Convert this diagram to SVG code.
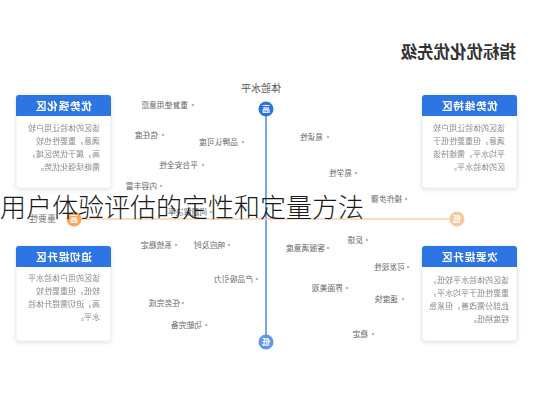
<svg xmlns="http://www.w3.org/2000/svg" width="533" height="400" viewBox="0 0 533 400">
<style>
text{font-family:"Noto Sans CJK SC","Noto Sans",sans-serif}
.ttl{font-size:16.5px;font-weight:700;fill:#333}
.box{fill:#fff;stroke:#e9edf3;stroke-width:1}
.hdr{fill:#2f74e4}
.ht{font-size:10.5px;font-weight:700;fill:#fff;text-anchor:middle;letter-spacing:0.8px}
.bt{font-size:8px;fill:#8a8a8a}
.it{font-size:7.8px;fill:#666}
.dot{fill:#bbb}
.ax{font-size:10px;fill:#555}
.cl{font-size:8px;font-weight:700;fill:#fff;text-anchor:middle}
.ov{font-size:26px;font-weight:300;fill:#1a1a1a}
</style>
<defs>
<filter id="sh" x="-10%" y="-10%" width="120%" height="125%"><feDropShadow dx="0" dy="1.5" stdDeviation="2" flood-color="#9aa8c0" flood-opacity="0.3"/></filter>
</defs>
<rect width="533" height="400" fill="#fff"/>
<g id="chart" transform="translate(533 0) scale(-1 1)">
<text class="ttl" x="17" y="58">指标优化优先级</text>
<g id="connectors">
<line x1="267" y1="109" x2="267" y2="342" stroke="#4a8ae8" stroke-width="1.5"/>
<line x1="76" y1="219" x2="459" y2="219" stroke="#f7d2b2" stroke-width="1.5"/>
</g>
<g id="axis-y">
<text class="ax" x="272" y="92" text-anchor="middle">体验水平</text>
<circle cx="267" cy="109" r="7.5" fill="#2b73e0"/>
<text class="cl" x="267" y="112">高</text>
<circle cx="267" cy="342" r="7.5" fill="#5e98ee"/>
<text class="cl" x="267" y="345">低</text>
</g>
<g id="axis-x">
<circle cx="459" cy="219" r="7.5" fill="#f5a55e"/>
<text class="cl" x="459" y="222">高</text>
<circle cx="76" cy="219" r="7.5" fill="#f8c99a"/>
<text class="cl" x="76" y="222">低</text>
<text class="ax" x="477" y="222" style="font-size:9px;fill:#777">重要性</text>
</g>
<g id="q-keep" filter="url(#sh)">
<rect class="box" x="16" y="95" width="95" height="93" rx="3"/>
<path class="hdr" d="M16 116V98a3 3 0 0 1 3-3H108a3 3 0 0 1 3 3V116Z"/>
<text class="ht" x="63.5" y="109.5">优势维持区</text>
<text class="bt" x="28" y="131">该区的体验让用户较</text>
<text class="bt" x="28" y="144">满意，但重要性低于</text>
<text class="bt" x="28" y="157">平均水平，需维持该</text>
<text class="bt" x="28" y="170">区的体验水平。</text>
</g>
<g id="q-strong" filter="url(#sh)">
<rect class="box" x="422" y="95" width="95" height="93" rx="3"/>
<path class="hdr" d="M422 116V98a3 3 0 0 1 3-3H514a3 3 0 0 1 3 3V116Z"/>
<text class="ht" x="469.5" y="109.5">优势强化区</text>
<text class="bt" x="433" y="131">该区的体验让用户较</text>
<text class="bt" x="433" y="144">满意，重要性也较</text>
<text class="bt" x="433" y="157">高，属于优势区域，</text>
<text class="bt" x="433" y="170">需继续强化优势。</text>
</g>
<g id="q-minor" filter="url(#sh)">
<rect class="box" x="16" y="246" width="95" height="95" rx="3"/>
<path class="hdr" d="M16 267V249a3 3 0 0 1 3-3H108a3 3 0 0 1 3 3V267Z"/>
<text class="ht" x="63.5" y="260.5">次要提升区</text>
<text class="bt" x="24" y="283">该区的体验水平较低，</text>
<text class="bt" x="24" y="296">重要性低于平均水平，</text>
<text class="bt" x="24" y="309">此部分需改善，但紧急</text>
<text class="bt" x="24" y="322">程度稍低。</text>
</g>
<g id="q-urgent" filter="url(#sh)">
<rect class="box" x="422" y="246" width="95" height="95" rx="3"/>
<path class="hdr" d="M422 267V249a3 3 0 0 1 3-3H514a3 3 0 0 1 3 3V267Z"/>
<text class="ht" x="469.5" y="260.5">迫切提升区</text>
<text class="bt" x="433" y="281">该区的用户体验水平</text>
<text class="bt" x="433" y="294">较低，但重要性较</text>
<text class="bt" x="433" y="307">高，迫切需提升体验</text>
<text class="bt" x="433" y="320">水平。</text>
</g>
<g id="i1"><circle class="dot" cx="340" cy="105" r="1.3"/><text class="it" x="345" y="108">重复使用意愿</text></g>
<g id="i2"><circle class="dot" cx="370" cy="135" r="1.3"/><text class="it" x="375" y="138">信任度</text></g>
<g id="i3"><circle class="dot" cx="290" cy="142" r="1.3"/><text class="it" x="295" y="145">品牌认可度</text></g>
<g id="i4"><circle class="dot" cx="330" cy="165" r="1.3"/><text class="it" x="335" y="168">平台安全性</text></g>
<g id="i5"><circle class="dot" cx="372" cy="186" r="1.3"/><text class="it" x="376" y="189">内容丰富</text></g>
<g id="i6"><circle class="dot" cx="205" cy="137" r="1.3"/><text class="it" x="210" y="140">易读性</text></g>
<g id="i7"><circle class="dot" cx="177" cy="173" r="1.3"/><text class="it" x="181" y="176">易学性</text></g>
<g id="i8"><circle class="dot" cx="127" cy="199" r="1.3"/><text class="it" x="131" y="202">操作步骤</text></g>
<g id="i20"><circle class="dot" cx="322" cy="212" r="1.3"/><text class="it" x="326" y="215">问题解决率</text></g>
<g id="i9"><circle class="dot" cx="357" cy="245" r="1.3"/><text class="it" x="361" y="248">系统稳定</text></g>
<g id="i10"><circle class="dot" cx="304" cy="245" r="1.3"/><text class="it" x="308" y="248">响应及时</text></g>
<g id="i11"><circle class="dot" cx="276" cy="279" r="1.3"/><text class="it" x="280" y="282">产品吸引力</text></g>
<g id="i12"><circle class="dot" cx="350" cy="303" r="1.3"/><text class="it" x="353" y="306">任务完成</text></g>
<g id="i13"><circle class="dot" cx="327" cy="325" r="1.3"/><text class="it" x="331" y="328">功能完备</text></g>
<g id="i14"><circle class="dot" cx="166" cy="240" r="1.3"/><text class="it" x="170" y="243">反馈</text></g>
<g id="i15"><circle class="dot" cx="205" cy="248" r="1.3"/><text class="it" x="208" y="251">客服满意度</text></g>
<g id="i16"><circle class="dot" cx="125" cy="267" r="1.3"/><text class="it" x="128" y="270">可发现性</text></g>
<g id="i17"><circle class="dot" cx="186" cy="288" r="1.3"/><text class="it" x="190" y="291">界面美观</text></g>
<g id="i18"><circle class="dot" cx="130" cy="299" r="1.3"/><text class="it" x="135" y="302">速度快</text></g>
<g id="i19"><circle class="dot" cx="160" cy="334" r="1.3"/><text class="it" x="165" y="337">稳定</text></g>
</g>
<text class="ov" x="0" y="217">用户体验评估的定性和定量方法</text>
</svg>
